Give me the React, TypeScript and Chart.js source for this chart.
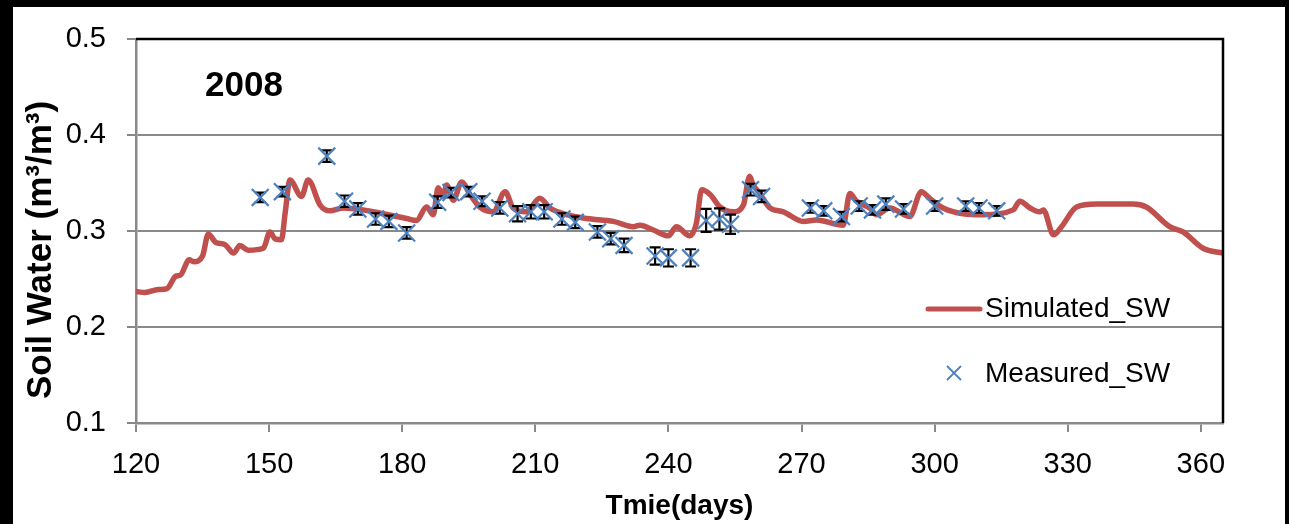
import React, { useEffect, useRef } from "react";
import { Chart, registerables } from "chart.js";

Chart.register(...registerables);

// ---- Data ----
const simDays = [
  120, 122, 125, 127, 129, 130, 132, 133, 135, 136.3, 138, 140, 142, 143.4, 145.3, 148.7, 150.2, 151.3, 152.8,
  153.6, 154.7, 157.3, 158.8, 161.5, 163.7, 166.7, 171.2, 175.7, 181, 183.2, 185.5, 187, 188.1, 189.3, 190,
  191.5, 193.4, 195.3, 197.5, 200.5, 203.2, 205, 208, 211, 213.3, 217.1, 221.6, 227.6, 232.1, 233.6, 236.6,
  240, 241.8, 244.8, 246.3, 247.5, 249.4, 251.6, 254.6, 256.9, 258.3, 259.1, 260.6, 262.9, 265.9, 270.4,
  273.4, 279.4, 280.9, 282.4, 285.4, 286.9, 289.9, 294.4, 297, 298.9, 301.9, 306.4, 310.9, 317.7, 319.2,
  321.5, 323.7, 324.5, 326.8, 328.6, 332, 336.5, 344.7, 347.7, 353, 356, 360.5, 365,
];
const simValues = [
  0.237, 0.236, 0.239, 0.24, 0.253, 0.254, 0.27, 0.268, 0.274, 0.297, 0.288, 0.286, 0.277, 0.285, 0.28, 0.282,
  0.299, 0.292, 0.291, 0.318, 0.353, 0.336, 0.353, 0.327, 0.321, 0.324, 0.322, 0.318, 0.313, 0.311, 0.325,
  0.317, 0.345, 0.336, 0.348, 0.332, 0.351, 0.338, 0.325, 0.32, 0.341, 0.324, 0.32, 0.334, 0.324, 0.317,
  0.313, 0.31, 0.3045, 0.306, 0.301, 0.295, 0.3045, 0.295, 0.308, 0.343, 0.338, 0.325, 0.32, 0.327, 0.357,
  0.348, 0.339, 0.324, 0.32, 0.31, 0.3115, 0.306, 0.339, 0.331, 0.324, 0.317, 0.324, 0.315, 0.341, 0.334,
  0.324, 0.318, 0.317, 0.322, 0.331, 0.324, 0.32, 0.322, 0.296, 0.3045, 0.325, 0.328, 0.328, 0.325, 0.3045,
  0.299, 0.282, 0.277,
];

const measDays = [
  148, 153, 163, 167, 170, 174, 177, 181, 188, 191, 195, 198, 202, 206, 209, 212, 216, 219, 224, 227, 230,
  237, 240, 245, 248.5, 251.5, 254, 258.5, 261, 272, 275, 279, 283, 286, 289, 293, 300, 307, 310, 314,
];
const measValues = [
  0.335, 0.341, 0.378, 0.331, 0.323, 0.3125, 0.31, 0.298, 0.33, 0.34, 0.341, 0.331, 0.324, 0.318, 0.32, 0.32,
  0.3125, 0.309, 0.299, 0.292, 0.285, 0.274, 0.272, 0.272, 0.311, 0.3125, 0.307, 0.343, 0.336, 0.324, 0.321,
  0.315, 0.326, 0.322, 0.328, 0.323, 0.326, 0.326, 0.324, 0.321,
];
const measErr = [
  0.005, 0.005, 0.006, 0.006, 0.006, 0.006, 0.006, 0.006, 0.006, 0.005, 0.005, 0.005, 0.006, 0.008, 0.007,
  0.007, 0.006, 0.006, 0.006, 0.006, 0.007, 0.009, 0.009, 0.009, 0.012, 0.011, 0.01, 0.006, 0.006, 0.005,
  0.005, 0.005, 0.005, 0.005, 0.006, 0.005, 0.005, 0.005, 0.005, 0.005,
];

const seriesNames = ["Simulated_SW", "Measured_SW"];
const yearLabel = "2008";
const xTitle = "Tmie(days)";
const yTitle = "Soil Water (m³/m³)";
const xRange = [120, 365];
const xStep = 30;
const yRange = [0.1, 0.5];
const yStep = 0.1;

// ---- Styles ----
const RED = "#C0504D";
const BLUE = "#4F81BD";
const GRID = "#898989";
const FONT = "'Liberation Sans', Arial, sans-serif";

const decorPlugin = {
  id: "decor",
  beforeDatasetDraw(chart: any, args: any) {
    if (args.index !== 0) return;
    const { ctx, scales } = chart;
    const x = scales.x;
    const y = scales.y;
    ctx.save();
    ctx.strokeStyle = "#000";
    ctx.lineWidth = 2.2;
    measDays.forEach((d, i) => {
      const px = x.getPixelForValue(d);
      const t = y.getPixelForValue(measValues[i] + measErr[i]);
      const b = y.getPixelForValue(measValues[i] - measErr[i]);
      ctx.beginPath();
      ctx.moveTo(px, t);
      ctx.lineTo(px, b);
      ctx.moveTo(px - 5.5, t);
      ctx.lineTo(px + 5.5, t);
      ctx.moveTo(px - 5.5, b);
      ctx.lineTo(px + 5.5, b);
      ctx.stroke();
    });
    ctx.restore();
  },
  afterDraw(chart: any) {
    const { ctx, chartArea } = chart;
    ctx.save();
    // black top & right frame of plot area
    ctx.strokeStyle = "#000";
    ctx.lineWidth = 2.5;
    ctx.beginPath();
    ctx.moveTo(chartArea.left, chartArea.top);
    ctx.lineTo(chartArea.right, chartArea.top);
    ctx.lineTo(chartArea.right, chartArea.bottom);
    ctx.stroke();

    // year label
    ctx.fillStyle = "#000";
    ctx.font = `bold 35px ${FONT}`;
    ctx.textAlign = "left";
    ctx.textBaseline = "middle";
    ctx.fillText(yearLabel, 205, 86);

    // y title
    ctx.save();
    ctx.translate(41, 250);
    ctx.rotate(-Math.PI / 2);
    ctx.textAlign = "center";
    ctx.textBaseline = "middle";
    ctx.font = `bold 35px ${FONT}`;
    ctx.fillText(yTitle, 0, 0);
    ctx.restore();

    // legend
    ctx.font = `28px ${FONT}`;
    ctx.textAlign = "left";
    ctx.textBaseline = "middle";
    ctx.strokeStyle = RED;
    ctx.lineWidth = 5;
    ctx.lineCap = "round";
    ctx.beginPath();
    ctx.moveTo(928, 309);
    ctx.lineTo(980, 309);
    ctx.stroke();
    ctx.fillStyle = "#000";
    ctx.fillText(seriesNames[0], 985, 309);

    ctx.strokeStyle = BLUE;
    ctx.lineWidth = 1.8;
    ctx.lineCap = "butt";
    ctx.beginPath();
    ctx.moveTo(947, 366);
    ctx.lineTo(961, 380);
    ctx.moveTo(961, 366);
    ctx.lineTo(947, 380);
    ctx.stroke();
    ctx.fillText(seriesNames[1], 985, 374);
    ctx.restore();
  },
};

export default function App() {
  const ref = useRef<HTMLCanvasElement>(null);

  useEffect(() => {
    if (!ref.current) return;
    const chart = new Chart(ref.current, {
      type: "scatter",
      data: {
        datasets: [
          {
            label: seriesNames[1],
            data: measDays.map((d, i) => ({ x: d, y: measValues[i] })),
            pointStyle: "crossRot",
            pointRadius: 12,
            pointBorderColor: BLUE,
            pointBackgroundColor: BLUE,
            pointBorderWidth: 2.2,
            showLine: false,
          },
          {
            label: seriesNames[0],
            data: simDays.map((d, i) => ({ x: d, y: simValues[i] })),
            showLine: true,
            pointRadius: 0,
            borderColor: RED,
            backgroundColor: RED,
            borderWidth: 5.5,
            borderCapStyle: "round",
            borderJoinStyle: "round",
            cubicInterpolationMode: "monotone",
          } as any,
        ],
      },
      options: {
        animation: false,
        responsive: false,
        devicePixelRatio: 1,
        events: [],
        layout: { padding: { left: 13, top: 39, right: 66, bottom: 0 } },
        plugins: {
          legend: { display: false },
          tooltip: { enabled: false },
        },
        scales: {
          x: {
            type: "linear",
            min: xRange[0],
            max: xRange[1],
            afterFit: (s: any) => {
              s.height = 101;
            },
            ticks: {
              stepSize: xStep,
              includeBounds: false,
              color: "#000",
              padding: 16,
              maxRotation: 0,
              font: { family: FONT, size: 29 },
            },
            grid: {
              drawOnChartArea: false,
              drawTicks: true,
              tickLength: 9,
              color: GRID,
              lineWidth: 2,
            },
            border: { display: true, color: GRID, width: 2.5 },
            title: {
              display: true,
              text: xTitle,
              color: "#000",
              font: { family: FONT, size: 28, weight: "bold" },
              padding: { top: 0, bottom: 1 },
            },
          },
          y: {
            type: "linear",
            min: yRange[0],
            max: yRange[1],
            afterFit: (s: any) => {
              s.width = 123;
            },
            ticks: {
              stepSize: yStep,
              color: "#000",
              padding: 21,
              font: { family: FONT, size: 29 },
              callback: (v: any) => Number(v).toFixed(1),
            },
            grid: {
              drawTicks: true,
              tickLength: 9,
              color: GRID,
              tickColor: GRID,
              lineWidth: 2,
            },
            border: { display: true, color: GRID, width: 2.5 },
          },
        },
      },
      plugins: [decorPlugin],
    });
    return () => chart.destroy();
  }, []);

  return (
    <div style={{ position: "fixed", left: 0, top: 0, width: 1289, height: 524, background: "#000" }}>
      <div style={{ position: "absolute", left: 13, top: 7, width: 1272, height: 517, background: "#fff" }} />
      <canvas ref={ref} width={1289} height={524} style={{ position: "absolute", left: 0, top: 0 }} />
    </div>
  );
}
